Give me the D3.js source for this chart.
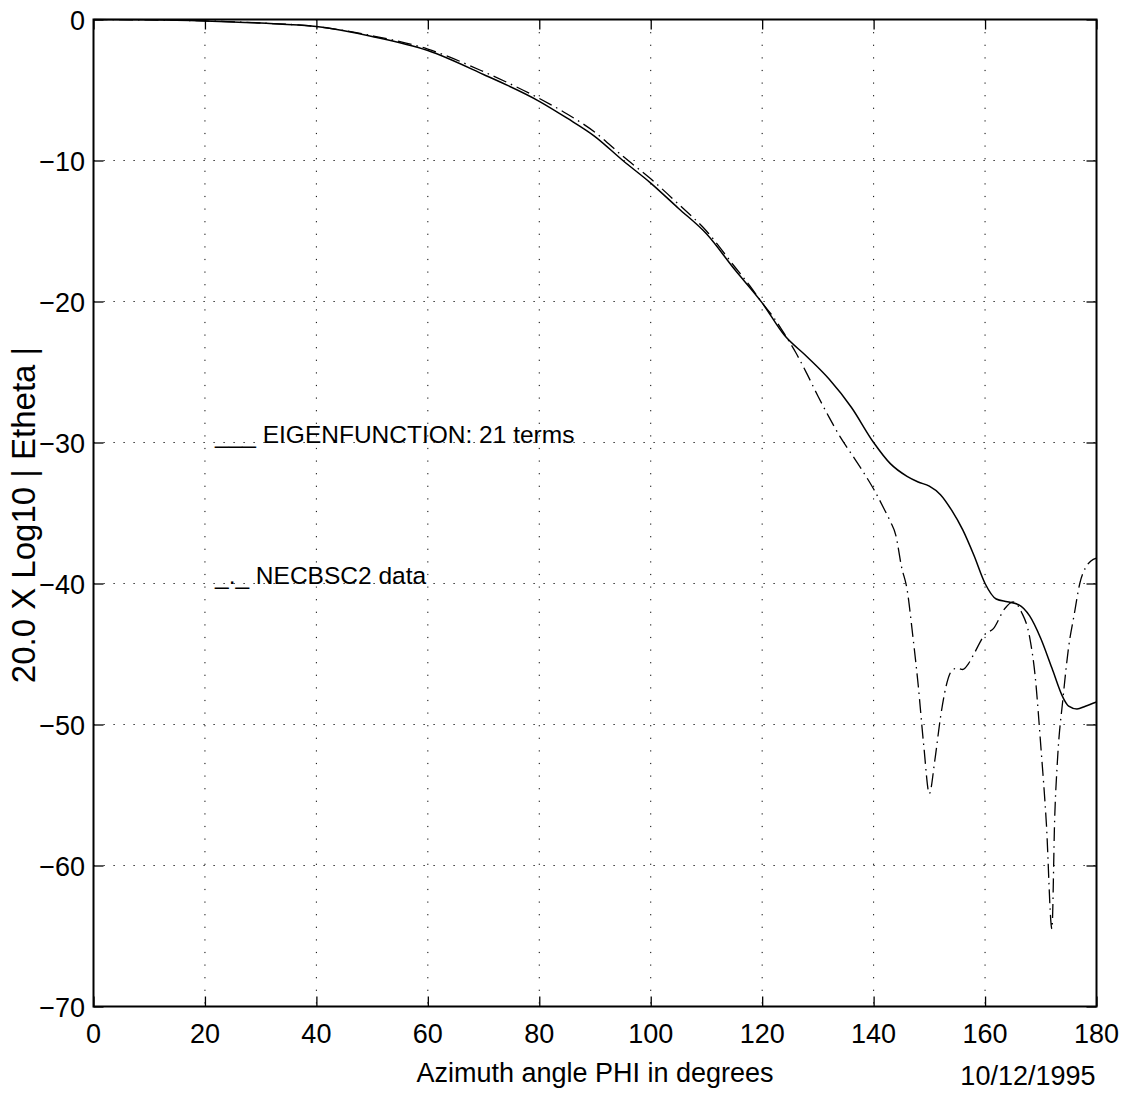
<!DOCTYPE html>
<html lang="en">
  <head>
    <meta charset="utf-8" />
    <title>Etheta vs azimuth</title>
    <script type="text/javascript" src="https://d3js.org/d3.v7.min.js"></script>
    <style>
      body { margin: 0; background: #fff; }
      text { font-family: "Liberation Sans", Arial, Helvetica, sans-serif; fill: #000; }
    </style>
  </head>
  <body>
    <div id="chart"></div>

    <script type="text/javascript">
      /********************************
       * data
       ********************************/

      // EIGENFUNCTION: 21 terms (solid)
      const eigPhi = [0, 10, 20, 30, 40, 50, 60, 70, 80, 85, 90, 95, 100, 105, 110, 115, 120,
        124, 128, 132, 136, 140, 143, 146, 148, 150, 152, 154, 156, 158, 160, 162, 164, 166,
        168, 170, 172, 174, 175, 176.5, 178, 180];
      const eigDb = [0, -0.02, -0.1, -0.25, -0.5, -1.2, -2.2, -3.9, -5.8, -7.0, -8.3, -10.0, -11.6,
        -13.4, -15.2, -17.7, -20.1, -22.4, -23.9, -25.5, -27.5, -30.0, -31.5, -32.4, -32.8, -33.1,
        -33.7, -34.8, -36.2, -38.0, -40.0, -41.1, -41.3, -41.5, -42.3, -43.9, -46.0, -48.1, -48.7,
        -48.9, -48.7, -48.4];

      // NECBSC2 data (dash-dot)
      const necPhi = [0, 20, 30, 40, 50, 60, 70, 80, 85, 90, 95, 100, 105, 110, 115, 118, 120,
        122, 124, 126, 128, 130, 132, 134, 136, 138, 140, 142, 143, 144, 145, 146, 147, 148, 149,
        150, 151, 152, 153, 154, 155, 156, 157, 158, 160, 161.5, 163.5, 165, 166.5, 168, 169, 170,
        171, 172, 172.5, 173, 174, 175, 176, 177, 178, 179, 180];
      const necDb = [0, -0.1, -0.25, -0.5, -1.15, -2.1, -3.7, -5.6, -6.7, -8.0, -9.7, -11.3, -13.1,
        -15.0, -17.5, -19.0, -20.1, -21.1, -22.3, -23.6, -25.1, -26.7, -28.2, -29.6, -30.8, -32.0,
        -33.3, -34.8, -35.6, -36.6, -38.8, -40.4, -43.6, -47.2, -51.5, -54.9, -52.5, -49.5, -47.3,
        -46.2, -46.0, -46.1, -45.7, -45.0, -43.6, -43.2, -41.8, -41.3, -42.0, -43.8, -46.6, -51.5,
        -57.0, -64.5, -56.6, -52.5, -48.1, -44.5, -42.2, -40.0, -38.9, -38.4, -38.2];

      const xTicks = [0, 20, 40, 60, 80, 100, 120, 140, 160, 180];
      const yTicks = [0, -10, -20, -30, -40, -50, -60, -70];

      const legendLabels = ["___ EIGENFUNCTION: 21 terms", "_._ NECBSC2 data"];
      const legendAt = [-30, -40]; // dB level of each legend line
      const xLabel = "Azimuth angle PHI in degrees";
      const yLabel = "20.0 X Log10 | Etheta |";
      const dateLabel = "10/12/1995";

      /***************************
       * svg and scales
       **************************/

      const width = 1128;
      const height = 1095;
      const plotLeft = 93.5, plotRight = 1096.5, plotTop = 19.5, plotBottom = 1006.5;

      const svg = d3
        .select("div#chart")
        .append("svg")
        .attr("width", width)
        .attr("height", height)
        .style("background-color", "white");

      const x = d3.scaleLinear().domain([0, 180]).range([plotLeft, plotRight]);
      const y = d3.scaleLinear().domain([-70, 0]).range([plotBottom, plotTop]);

      /****************************
       * dotted grid
       ****************************/

      svg.append("g")
        .selectAll("line")
        .data(xTicks.slice(1, -1))
        .enter()
        .append("line")
        .attr("x1", (d) => x(d))
        .attr("x2", (d) => x(d))
        .attr("y1", plotTop)
        .attr("y2", plotBottom)
        .style("stroke", "#000")
        .style("stroke-width", 1)
        .style("stroke-dasharray", "1.2,11.4");

      svg.append("g")
        .selectAll("line")
        .data(yTicks.slice(1, -1))
        .enter()
        .append("line")
        .attr("x1", plotLeft)
        .attr("x2", plotRight)
        .attr("y1", (d) => y(d))
        .attr("y2", (d) => y(d))
        .style("stroke", "#000")
        .style("stroke-width", 1)
        .style("stroke-dasharray", "1.2,8.8");

      /****************************
       * curves
       ****************************/

      const line = d3
        .line()
        .x((d) => x(d[0]))
        .y((d) => y(d[1]))
        .curve(d3.curveMonotoneX);

      svg.append("clipPath").attr("id", "plotclip")
        .append("rect")
        .attr("x", plotLeft).attr("y", plotTop - 1)
        .attr("width", plotRight - plotLeft).attr("height", plotBottom - plotTop + 1);

      svg.append("path")
        .datum(d3.zip(necPhi, necDb))
        .attr("d", line)
        .attr("clip-path", "url(#plotclip)")
        .style("fill", "none")
        .style("stroke", "#000")
        .style("stroke-width", 1.3)
        .style("stroke-dasharray", "14,5,1.5,5");

      svg.append("path")
        .datum(d3.zip(eigPhi, eigDb))
        .attr("d", line)
        .attr("clip-path", "url(#plotclip)")
        .style("fill", "none")
        .style("stroke", "#000")
        .style("stroke-width", 1.5);

      /****************************
       * axes (box with inward ticks)
       ****************************/

      const tickLen = 10;

      svg.append("g")
        .attr("transform", `translate(0,${plotBottom})`)
        .call(d3.axisBottom(x).tickValues(xTicks).tickSize(-tickLen).tickFormat(""))
        .call((g) => g.select(".domain").remove());
      svg.append("g")
        .attr("transform", `translate(0,${plotTop})`)
        .call(d3.axisTop(x).tickValues(xTicks).tickSize(-tickLen).tickFormat(""))
        .call((g) => g.select(".domain").remove());
      svg.append("g")
        .attr("transform", `translate(${plotLeft},0)`)
        .call(d3.axisLeft(y).tickValues(yTicks).tickSize(-tickLen).tickFormat(""))
        .call((g) => g.select(".domain").remove());
      svg.append("g")
        .attr("transform", `translate(${plotRight},0)`)
        .call(d3.axisRight(y).tickValues(yTicks).tickSize(-tickLen).tickFormat(""))
        .call((g) => g.select(".domain").remove());

      svg.selectAll(".tick line").style("stroke", "#000").style("stroke-width", 1.3);

      svg.append("rect")
        .attr("x", plotLeft)
        .attr("y", plotTop)
        .attr("width", plotRight - plotLeft)
        .attr("height", plotBottom - plotTop)
        .style("fill", "none")
        .style("stroke", "#000")
        .style("stroke-width", 2);

      /****************************
       * tick labels and titles
       ****************************/

      svg.append("g")
        .selectAll("text")
        .data(xTicks)
        .enter()
        .append("text")
        .attr("x", (d) => x(d))
        .attr("y", 1043)
        .attr("text-anchor", "middle")
        .style("font-size", "27px")
        .text((d) => d);

      svg.append("g")
        .selectAll("text")
        .data(yTicks)
        .enter()
        .append("text")
        .attr("x", 85)
        .attr("y", (d) => y(d) + 10)
        .attr("text-anchor", "end")
        .style("font-size", "27px")
        .text((d) => (d < 0 ? "\u2212" + Math.abs(d) : d));

      svg.append("text")
        .attr("x", (plotLeft + plotRight) / 2)
        .attr("y", 1082)
        .attr("text-anchor", "middle")
        .style("font-size", "27px")
        .text(xLabel);

      svg.append("text")
        .attr("x", plotRight - 1)
        .attr("y", 1085)
        .attr("text-anchor", "end")
        .style("font-size", "27px")
        .text(dateLabel);

      svg.append("text")
        .attr("transform", `translate(35,515) rotate(-90)`)
        .attr("text-anchor", "middle")
        .style("font-size", "33px")
        .text(yLabel);

      /****************************
       * legend (text labels in the plot)
       ****************************/

      svg.append("g")
        .selectAll("text")
        .data(legendLabels)
        .enter()
        .append("text")
        .attr("x", 215)
        .attr("y", (d, i) => y(legendAt[i]))
        .style("font-size", "24.5px")
        .text((d) => d);
    </script>
  </body>
</html>
